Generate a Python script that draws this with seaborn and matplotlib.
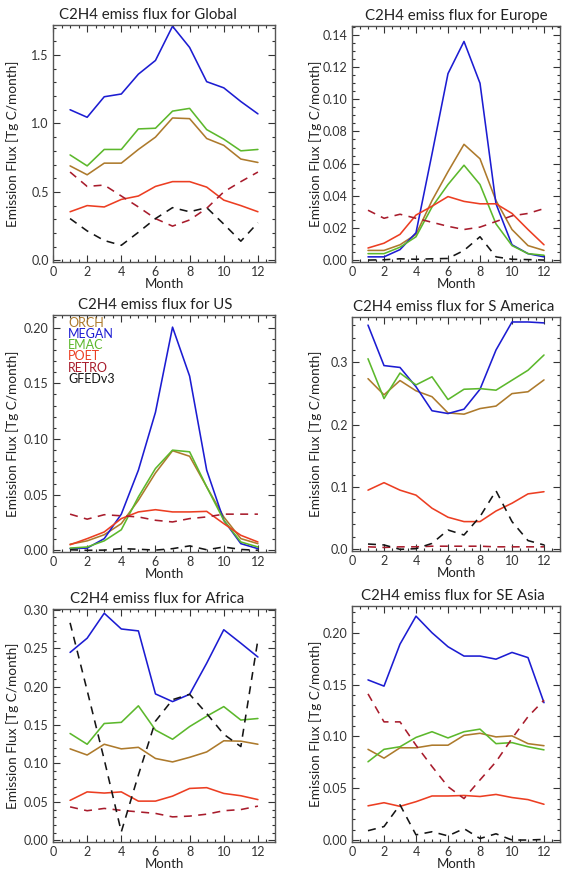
import numpy as np
import pandas as pd
import matplotlib
matplotlib.use('Agg')
import matplotlib.pyplot as plt
from matplotlib.ticker import MultipleLocator, AutoMinorLocator, FormatStrFormatter
import seaborn as sns

# ---------------------------------------------------------
# data (Tg C/month)
# ---------------------------------------------------------
months = [1, 2, 3, 4, 5, 6, 7, 8, 9, 10, 11, 12]
models = ['ORCH', 'MEGAN', 'EMAC', 'POET', 'RETRO', 'GFEDv3']

global_orch = [0.69, 0.625, 0.71, 0.71, 0.81, 0.90, 1.04, 1.035, 0.89, 0.84, 0.74, 0.715]
global_megan = [1.10, 1.045, 1.195, 1.215, 1.36, 1.46, 1.71, 1.555, 1.305, 1.26, 1.16, 1.07]
global_emac = [0.77, 0.69, 0.81, 0.81, 0.96, 0.965, 1.09, 1.11, 0.955, 0.885, 0.80, 0.81]
global_poet = [0.355, 0.40, 0.39, 0.445, 0.47, 0.54, 0.575, 0.575, 0.535, 0.44, 0.40, 0.355]
global_retro = [0.645, 0.54, 0.55, 0.47, 0.39, 0.305, 0.25, 0.295, 0.38, 0.50, 0.575, 0.645]
global_gfed = [0.305, 0.215, 0.145, 0.11, 0.205, 0.305, 0.385, 0.355, 0.385, 0.265, 0.14, 0.275]

europe_orch = [0.006, 0.006, 0.0095, 0.016, 0.037, 0.055, 0.072, 0.063, 0.037, 0.019, 0.009, 0.006]
europe_megan = [0.002, 0.002, 0.0065, 0.017, 0.066, 0.116, 0.136, 0.110, 0.035, 0.0095, 0.004, 0.002]
europe_emac = [0.004, 0.004, 0.008, 0.0145, 0.033, 0.047, 0.059, 0.047, 0.0225, 0.009, 0.004, 0.003]
europe_poet = [0.0075, 0.0105, 0.016, 0.028, 0.0335, 0.0395, 0.0365, 0.035, 0.035, 0.029, 0.019, 0.0095]
europe_retro = [0.031, 0.026, 0.0285, 0.026, 0.0235, 0.021, 0.019, 0.0205, 0.024, 0.0275, 0.029, 0.032]
europe_gfed = [0.0, 0.0002, 0.0008, 0.0005, 0.0008, 0.001, 0.006, 0.0145, 0.002, 0.0005, 0.0003, 0.0]

us_orch = [0.0055, 0.0085, 0.014, 0.024, 0.045, 0.0695, 0.0895, 0.0845, 0.057, 0.030, 0.0105, 0.006]
us_megan = [0.0015, 0.002, 0.0105, 0.0325, 0.072, 0.124, 0.2005, 0.1565, 0.072, 0.027, 0.006, 0.0015]
us_emac = [0.002, 0.003, 0.0085, 0.0185, 0.048, 0.0735, 0.090, 0.0885, 0.057, 0.027, 0.0075, 0.003]
us_poet = [0.005, 0.0105, 0.0165, 0.0285, 0.0345, 0.0365, 0.0345, 0.0345, 0.035, 0.024, 0.0135, 0.0075]
us_retro = [0.0325, 0.028, 0.032, 0.031, 0.030, 0.027, 0.0255, 0.0285, 0.030, 0.0325, 0.0325, 0.0325]
us_gfed = [0.0005, 0.0, 0.0002, 0.0015, 0.001, 0.0002, 0.0015, 0.004, 0.0005, 0.003, 0.0008, 0.0]

sam_orch = [0.274, 0.248, 0.271, 0.2545, 0.245, 0.219, 0.217, 0.226, 0.23, 0.25, 0.253, 0.272]
sam_megan = [0.36, 0.295, 0.292, 0.261, 0.2225, 0.218, 0.225, 0.257, 0.32, 0.365, 0.365, 0.3635]
sam_emac = [0.306, 0.242, 0.283, 0.264, 0.277, 0.2405, 0.257, 0.258, 0.2555, 0.2715, 0.2875, 0.312]
sam_poet = [0.095, 0.107, 0.095, 0.087, 0.066, 0.0515, 0.0445, 0.0445, 0.0615, 0.074, 0.089, 0.0925]
sam_retro = [0.004, 0.003, 0.004, 0.004, 0.005, 0.005, 0.005, 0.005, 0.004, 0.004, 0.004, 0.004]
sam_gfed = [0.0085, 0.007, 0.0, 0.001, 0.0095, 0.031, 0.023, 0.0525, 0.094, 0.0445, 0.014, 0.007]

africa_orch = [0.119, 0.111, 0.125, 0.119, 0.121, 0.1065, 0.102, 0.108, 0.115, 0.1295, 0.129, 0.125]
africa_megan = [0.2445, 0.263, 0.2955, 0.275, 0.2725, 0.1905, 0.1805, 0.19, 0.2305, 0.274, 0.2565, 0.2385]
africa_emac = [0.139, 0.125, 0.152, 0.1535, 0.175, 0.1435, 0.1315, 0.148, 0.1615, 0.174, 0.1565, 0.1585]
africa_poet = [0.052, 0.063, 0.0615, 0.063, 0.051, 0.051, 0.0575, 0.0675, 0.0685, 0.061, 0.058, 0.053]
africa_retro = [0.0435, 0.0385, 0.0415, 0.039, 0.037, 0.035, 0.0305, 0.0315, 0.034, 0.0385, 0.040, 0.0445]
africa_gfed = [0.283, 0.195, 0.105, 0.011, 0.085, 0.155, 0.183, 0.19, 0.165, 0.138, 0.122, 0.261]

seasia_orch = [0.0875, 0.079, 0.089, 0.089, 0.0915, 0.0915, 0.101, 0.103, 0.0995, 0.1005, 0.093, 0.091]
seasia_megan = [0.1545, 0.1485, 0.189, 0.216, 0.200, 0.1865, 0.1775, 0.1775, 0.1745, 0.181, 0.176, 0.1325]
seasia_emac = [0.0755, 0.0875, 0.090, 0.099, 0.1045, 0.0985, 0.1045, 0.107, 0.093, 0.094, 0.090, 0.087]
seasia_poet = [0.033, 0.036, 0.0325, 0.037, 0.0425, 0.0425, 0.043, 0.042, 0.044, 0.041, 0.039, 0.0345]
seasia_retro = [0.141, 0.114, 0.114, 0.0915, 0.071, 0.0515, 0.040, 0.058, 0.0755, 0.098, 0.119, 0.135]
seasia_gfed = [0.009, 0.013, 0.034, 0.005, 0.008, 0.004, 0.011, 0.0015, 0.006, 0.0, 0.0, 0.0006]

region_names = ['Global', 'Europe', 'US', 'S America', 'Africa', 'SE Asia']
region_series = [
    [global_orch, global_megan, global_emac, global_poet, global_retro, global_gfed],
    [europe_orch, europe_megan, europe_emac, europe_poet, europe_retro, europe_gfed],
    [us_orch, us_megan, us_emac, us_poet, us_retro, us_gfed],
    [sam_orch, sam_megan, sam_emac, sam_poet, sam_retro, sam_gfed],
    [africa_orch, africa_megan, africa_emac, africa_poet, africa_retro, africa_gfed],
    [seasia_orch, seasia_megan, seasia_emac, seasia_poet, seasia_retro, seasia_gfed],
]

# ---------------------------------------------------------
# style
# ---------------------------------------------------------
sns.set_style('ticks')
plt.rcParams['font.family'] = ['Lato', 'DejaVu Sans']

palette = {'ORCH': '#ad7a2c', 'MEGAN': '#1c1cd2', 'EMAC': '#5cb82c',
           'POET': '#ec3e22', 'RETRO': '#a81c2c', 'GFEDv3': '#151515'}
dashes = {'ORCH': '', 'MEGAN': '', 'EMAC': '', 'POET': '',
          'RETRO': (5, 4), 'GFEDv3': (5, 4)}

# panel y ranges, major tick step, label format
ylims = [(-0.012, 1.719), (-0.0012, 0.1456), (-0.0015, 0.2114),
         (-0.0027, 0.373), (-0.0022, 0.301), (-0.0019, 0.2258)]
ysteps = [0.5, 0.02, 0.05, 0.1, 0.05, 0.05]
yfmts = ['%.1f', '%.2f', '%.2f', '%.1f', '%.2f', '%.2f']
# title centre as fraction of axes width (left column titles sit a bit left)
title_x = [0.426, 0.5, 0.459, 0.49, 0.468, 0.486]

# axes boxes in pixels: (left, top, right, bottom)
W, H = 568, 871
boxes = [(53, 25, 275, 262), (352, 26, 560, 262),
         (53, 315, 275, 552), (352, 317, 560, 551),
         (53, 609, 275, 842), (352, 606, 560, 842)]

fig = plt.figure(figsize=(W / 100, H / 100), dpi=100)

for i, name in enumerate(region_names):
    l, t, r, b = boxes[i]
    w, h = r - l, b - t
    ax = fig.add_axes([l / W, 1 - b / H, w / W, h / H])

    df = pd.DataFrame({
        'Month': months * len(models),
        'Flux': np.concatenate(region_series[i]),
        'Model': np.repeat(models, len(months)),
    })
    sns.lineplot(data=df, x='Month', y='Flux', hue='Model', style='Model',
                 palette=palette, dashes=dashes, hue_order=models,
                 style_order=models, linewidth=1.15, legend=False, ax=ax)

    ax.set_xlim(0, 13)
    ax.set_ylim(*ylims[i])
    ax.xaxis.set_major_locator(MultipleLocator(2))
    ax.xaxis.set_minor_locator(AutoMinorLocator(4))
    ax.yaxis.set_major_locator(MultipleLocator(ysteps[i]))
    ax.yaxis.set_minor_locator(AutoMinorLocator())
    ax.yaxis.set_major_formatter(FormatStrFormatter(yfmts[i]))

    ax.tick_params(which='both', direction='in', top=True, right=True,
                   colors='#333333', labelsize=9, width=0.8)
    ax.tick_params(which='major', length=5, pad=3)
    ax.tick_params(which='minor', length=2.5)
    for sp in ax.spines.values():
        sp.set_color('#555555')
        sp.set_linewidth(1.0)

    ax.set_title(f'C2H4 emiss flux for {name}', fontsize=10.8, pad=4,
                 color='#222222', x=title_x[i])
    ax.set_xlabel('Month', fontsize=9.5, color='#222222')
    ax.set_ylabel('Emission Flux [Tg C/month]', fontsize=9.8, color='#222222')
    ax.xaxis.label.set_va('center')
    ax.yaxis.label.set_va('center')
    ax.xaxis.set_label_coords(0.5, -22 / h)
    ax.yaxis.set_label_coords((13 - 53) / 222 if l < 300 else (316 - 352) / 208, 0.5)

    # model labels inside the US panel
    if name == 'US':
        for k, m in enumerate(models):
            ax.text(0.069, 0.968 - k * 0.0475, m, transform=ax.transAxes,
                    color=palette[m], fontsize=9, va='center', ha='left')

fig.savefig('out.png', dpi=100)
